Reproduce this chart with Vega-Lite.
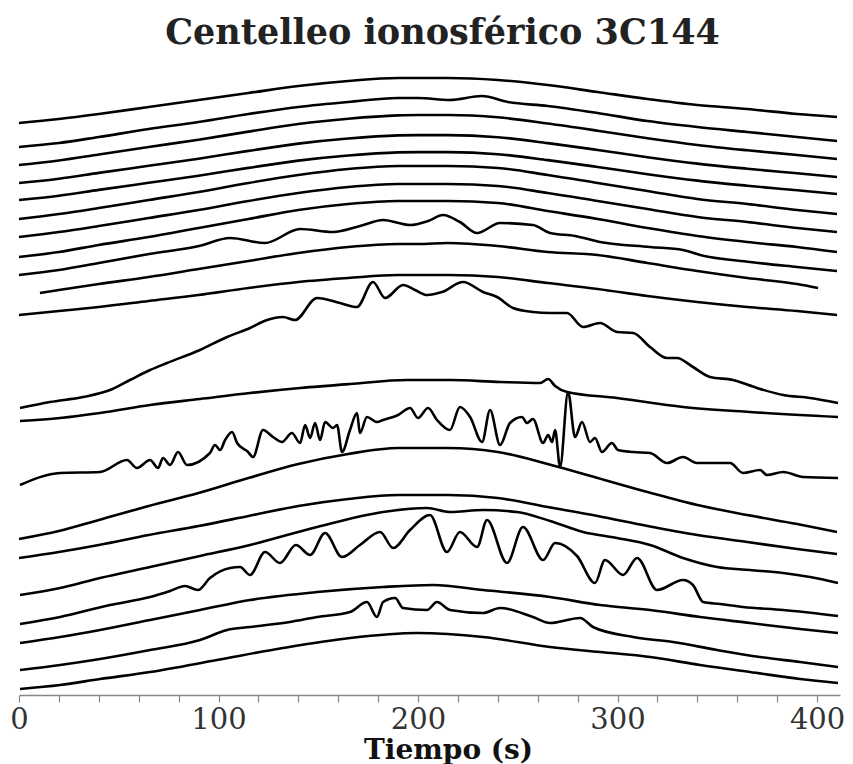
{
"$schema": "https://vega.github.io/schema/vega-lite/v6.json",
"width": 821, "height": 645,
"autosize": {"type": "none"},
"padding": {"left": 19, "top": 50, "right": 13, "bottom": 69},
"title": {"text": "Centelleo ionosférico 3C144", "font": "DejaVu Serif", "fontSize": 35, "fontWeight": "bold", "color": "#222", "anchor": "middle", "offset": -1, "dx": 13},
"config": {"view": {"stroke": null}},
"data": {"values": [
{"t":1,"x":0,"y":572},{"t":1,"x":20,"y":576},{"t":1,"x":40,"y":581},{"t":1,"x":65,"y":588},{"t":1,"x":90,"y":595},{"t":1,"x":115,"y":602},{"t":1,"x":140,"y":609},{"t":1,"x":165,"y":614},{"t":1,"x":190,"y":617},{"t":1,"x":200,"y":617},{"t":1,"x":215,"y":617},{"t":1,"x":240,"y":615},{"t":1,"x":265,"y":610},{"t":1,"x":290,"y":603},{"t":1,"x":315,"y":596},{"t":1,"x":340,"y":590},{"t":1,"x":365,"y":586},{"t":1,"x":390,"y":581},{"t":1,"x":410,"y":578},
{"t":2,"x":0,"y":548},{"t":2,"x":20,"y":552},{"t":2,"x":40,"y":558},{"t":2,"x":65,"y":566},{"t":2,"x":90,"y":573},{"t":2,"x":115,"y":581},{"t":2,"x":140,"y":588},{"t":2,"x":165,"y":593},{"t":2,"x":190,"y":597},{"t":2,"x":200,"y":597},{"t":2,"x":216,"y":595},{"t":2,"x":232,"y":599},{"t":2,"x":245,"y":593},{"t":2,"x":265,"y":589},{"t":2,"x":290,"y":582},{"t":2,"x":315,"y":574},{"t":2,"x":340,"y":568},{"t":2,"x":365,"y":563},{"t":2,"x":390,"y":558},{"t":2,"x":410,"y":554},
{"t":3,"x":0,"y":530},{"t":3,"x":20,"y":534.5},{"t":3,"x":40,"y":540.5},{"t":3,"x":65,"y":548},{"t":3,"x":90,"y":555.3},{"t":3,"x":115,"y":563.4},{"t":3,"x":140,"y":571},{"t":3,"x":165,"y":576.3},{"t":3,"x":190,"y":579.6},{"t":3,"x":200,"y":580},{"t":3,"x":215,"y":580},{"t":3,"x":240,"y":577.7},{"t":3,"x":265,"y":571.5},{"t":3,"x":290,"y":564.3},{"t":3,"x":315,"y":556.7},{"t":3,"x":340,"y":550},{"t":3,"x":365,"y":544.7},{"t":3,"x":390,"y":540},{"t":3,"x":410,"y":536},
{"t":4,"x":0,"y":512},{"t":4,"x":20,"y":516.3},{"t":4,"x":40,"y":522.1},{"t":4,"x":65,"y":529.2},{"t":4,"x":90,"y":536.3},{"t":4,"x":115,"y":544.1},{"t":4,"x":140,"y":551.4},{"t":4,"x":165,"y":556.5},{"t":4,"x":190,"y":559.6},{"t":4,"x":200,"y":559.9},{"t":4,"x":215,"y":559.9},{"t":4,"x":240,"y":557.8},{"t":4,"x":265,"y":551.9},{"t":4,"x":290,"y":545},{"t":4,"x":315,"y":537.8},{"t":4,"x":340,"y":531.4},{"t":4,"x":365,"y":526.3},{"t":4,"x":390,"y":521.7},{"t":4,"x":410,"y":518},
{"t":5,"x":0,"y":495},{"t":5,"x":20,"y":499.3},{"t":5,"x":40,"y":505.1},{"t":5,"x":65,"y":512.2},{"t":5,"x":90,"y":519.3},{"t":5,"x":115,"y":527.1},{"t":5,"x":140,"y":534.4},{"t":5,"x":165,"y":539.5},{"t":5,"x":190,"y":542.6},{"t":5,"x":200,"y":542.9},{"t":5,"x":215,"y":542.9},{"t":5,"x":240,"y":540.8},{"t":5,"x":265,"y":534.9},{"t":5,"x":290,"y":528},{"t":5,"x":315,"y":520.8},{"t":5,"x":340,"y":514.4},{"t":5,"x":365,"y":509.3},{"t":5,"x":390,"y":504.7},{"t":5,"x":410,"y":501},
{"t":6,"x":0,"y":476},{"t":6,"x":20,"y":481},{"t":6,"x":40,"y":487},{"t":6,"x":65,"y":495},{"t":6,"x":90,"y":503},{"t":6,"x":115,"y":512},{"t":6,"x":140,"y":520},{"t":6,"x":165,"y":526},{"t":6,"x":190,"y":529},{"t":6,"x":200,"y":529},{"t":6,"x":215,"y":529},{"t":6,"x":240,"y":527},{"t":6,"x":265,"y":520},{"t":6,"x":290,"y":512},{"t":6,"x":315,"y":504},{"t":6,"x":340,"y":496},{"t":6,"x":365,"y":491},{"t":6,"x":390,"y":485},{"t":6,"x":410,"y":481},
{"t":7,"x":0,"y":458},{"t":7,"x":20,"y":463},{"t":7,"x":40,"y":469},{"t":7,"x":65,"y":477},{"t":7,"x":90,"y":485},{"t":7,"x":115,"y":494},{"t":7,"x":140,"y":502},{"t":7,"x":165,"y":508},{"t":7,"x":190,"y":511},{"t":7,"x":200,"y":511},{"t":7,"x":215,"y":511},{"t":7,"x":240,"y":509},{"t":7,"x":265,"y":502},{"t":7,"x":290,"y":494},{"t":7,"x":315,"y":486},{"t":7,"x":340,"y":478},{"t":7,"x":365,"y":473},{"t":7,"x":390,"y":467},{"t":7,"x":410,"y":463},
{"t":8,"x":0,"y":438},{"t":8,"x":20,"y":443},{"t":8,"x":40,"y":450},{"t":8,"x":65,"y":458},{"t":8,"x":90,"y":467},{"t":8,"x":115,"y":476},{"t":8,"x":140,"y":485},{"t":8,"x":165,"y":491},{"t":8,"x":190,"y":494},{"t":8,"x":200,"y":494},{"t":8,"x":215,"y":494},{"t":8,"x":240,"y":492},{"t":8,"x":265,"y":484},{"t":8,"x":290,"y":476},{"t":8,"x":315,"y":467},{"t":8,"x":340,"y":459},{"t":8,"x":365,"y":453},{"t":8,"x":390,"y":448},{"t":8,"x":410,"y":443},
{"t":9,"x":0,"y":420},{"t":9,"x":20,"y":425},{"t":9,"x":40,"y":432},{"t":9,"x":65.2,"y":441},{"t":9,"x":90.2,"y":449},{"t":9,"x":105.8,"y":457},{"t":9,"x":123.3,"y":452},{"t":9,"x":140.9,"y":466},{"t":9,"x":157.4,"y":463},{"t":9,"x":170.9,"y":469},{"t":9,"x":182.5,"y":475},{"t":9,"x":196,"y":470},{"t":9,"x":205,"y":474},{"t":9,"x":212.5,"y":480},{"t":9,"x":221,"y":473},{"t":9,"x":229.6,"y":462},{"t":9,"x":241.1,"y":472},{"t":9,"x":257.6,"y":470},{"t":9,"x":266.2,"y":462},{"t":9,"x":278.7,"y":459},{"t":9,"x":291.2,"y":453},{"t":9,"x":316.3,"y":448},{"t":9,"x":332.8,"y":445},{"t":9,"x":341.4,"y":440},{"t":9,"x":366.4,"y":433},{"t":9,"x":390,"y":428},{"t":9,"x":410,"y":424},
{"t":10,"x":10.5,"y":402},{"t":10,"x":20,"y":405},{"t":10,"x":40,"y":411},{"t":10,"x":65,"y":418},{"t":10,"x":90,"y":426},{"t":10,"x":115,"y":434},{"t":10,"x":140,"y":442},{"t":10,"x":165,"y":448},{"t":10,"x":190,"y":451},{"t":10,"x":200,"y":451},{"t":10,"x":215,"y":452},{"t":10,"x":240,"y":449},{"t":10,"x":265,"y":443},{"t":10,"x":290,"y":440},{"t":10,"x":315,"y":432},{"t":10,"x":340,"y":424},{"t":10,"x":365,"y":417},{"t":10,"x":390,"y":411},{"t":10,"x":400.5,"y":407},
{"t":11,"x":0,"y":380},{"t":11,"x":20,"y":384},{"t":11,"x":40,"y":388},{"t":11,"x":65,"y":394},{"t":11,"x":90,"y":400},{"t":11,"x":115,"y":407},{"t":11,"x":140,"y":413},{"t":11,"x":165,"y":417},{"t":11,"x":190,"y":420},{"t":11,"x":200,"y":420},{"t":11,"x":215,"y":420},{"t":11,"x":240,"y":418},{"t":11,"x":265,"y":412},{"t":11,"x":290,"y":406},{"t":11,"x":315,"y":399},{"t":11,"x":340,"y":393},{"t":11,"x":365,"y":388},{"t":11,"x":390,"y":384},{"t":11,"x":410,"y":380},
{"t":12,"x":0.5,"y":287},{"t":12,"x":15.5,"y":293},{"t":12,"x":32.1,"y":298},{"t":12,"x":45.6,"y":305},{"t":12,"x":55.6,"y":315},{"t":12,"x":65.7,"y":325},{"t":12,"x":74.2,"y":332},{"t":12,"x":90.7,"y":345},{"t":12,"x":104.3,"y":358},{"t":12,"x":115.8,"y":367},{"t":12,"x":124.3,"y":375},{"t":12,"x":132.3,"y":378},{"t":12,"x":138.3,"y":375},{"t":12,"x":149.4,"y":397},{"t":12,"x":160.9,"y":392},{"t":12,"x":169.4,"y":388},{"t":12,"x":177.4,"y":413},{"t":12,"x":183.5,"y":397},{"t":12,"x":192.5,"y":410},{"t":12,"x":198.5,"y":405},{"t":12,"x":204.5,"y":400},{"t":12,"x":212,"y":403},{"t":12,"x":222.6,"y":413},{"t":12,"x":232.6,"y":403},{"t":12,"x":239.6,"y":398},{"t":12,"x":247.6,"y":387},{"t":12,"x":257.6,"y":383},{"t":12,"x":266.2,"y":382},{"t":12,"x":274.7,"y":382},{"t":12,"x":282.7,"y":368},{"t":12,"x":291.2,"y":372},{"t":12,"x":299.7,"y":363},{"t":12,"x":307.8,"y":362},{"t":12,"x":316.3,"y":348},{"t":12,"x":324.8,"y":337},{"t":12,"x":329.8,"y":337},{"t":12,"x":337.8,"y":328},{"t":12,"x":346.4,"y":318},{"t":12,"x":357.9,"y":315},{"t":12,"x":369.9,"y":307},{"t":12,"x":383,"y":300},{"t":12,"x":396.5,"y":297},{"t":12,"x":410.5,"y":292},
{"t":13,"x":0.5,"y":274},{"t":13,"x":20.6,"y":277},{"t":13,"x":40.6,"y":282},{"t":13,"x":65.7,"y":290},{"t":13,"x":90.7,"y":296},{"t":13,"x":115.8,"y":302},{"t":13,"x":140.9,"y":307},{"t":13,"x":165.9,"y":311},{"t":13,"x":194.5,"y":315},{"t":13,"x":216,"y":315},{"t":13,"x":241.1,"y":313},{"t":13,"x":261.2,"y":312},{"t":13,"x":265.2,"y":316},{"t":13,"x":268.7,"y":309},{"t":13,"x":274.7,"y":303},{"t":13,"x":299.7,"y":297},{"t":13,"x":332.8,"y":288},{"t":13,"x":366.4,"y":283},{"t":13,"x":410.5,"y":278},
{"t":14,"x":0.5,"y":210},{"t":14,"x":20.6,"y":222},{"t":14,"x":40.6,"y":223},{"t":14,"x":54.1,"y":235},{"t":14,"x":59.1,"y":227},{"t":14,"x":65.7,"y":235},{"t":14,"x":69.7,"y":227},{"t":14,"x":72.2,"y":237},{"t":14,"x":75.7,"y":230},{"t":14,"x":79.7,"y":243},{"t":14,"x":84.2,"y":230},{"t":14,"x":95.7,"y":242},{"t":14,"x":98.2,"y":250},{"t":14,"x":100.8,"y":245},{"t":14,"x":103.3,"y":255},{"t":14,"x":106.8,"y":263},{"t":14,"x":109.3,"y":252},{"t":14,"x":114.8,"y":243},{"t":14,"x":117.3,"y":238},{"t":14,"x":122.3,"y":265},{"t":14,"x":127.3,"y":258},{"t":14,"x":131.8,"y":253},{"t":14,"x":136.8,"y":262},{"t":14,"x":140.9,"y":252},{"t":14,"x":143.4,"y":270},{"t":14,"x":145.9,"y":257},{"t":14,"x":148.4,"y":272},{"t":14,"x":150.9,"y":255},{"t":14,"x":153.4,"y":273},{"t":14,"x":157.4,"y":267},{"t":14,"x":159.4,"y":270},{"t":14,"x":161.9,"y":243},{"t":14,"x":165.9,"y":265},{"t":14,"x":169.4,"y":282},{"t":14,"x":170.9,"y":262},{"t":14,"x":174.4,"y":278},{"t":14,"x":179.4,"y":273},{"t":14,"x":182.5,"y":275},{"t":14,"x":187.5,"y":278},{"t":14,"x":190,"y":280},{"t":14,"x":196,"y":287},{"t":14,"x":200,"y":277},{"t":14,"x":205,"y":287},{"t":14,"x":209.5,"y":275},{"t":14,"x":216,"y":265},{"t":14,"x":221,"y":288},{"t":14,"x":226.1,"y":278},{"t":14,"x":232.1,"y":253},{"t":14,"x":236.1,"y":285},{"t":14,"x":241.1,"y":250},{"t":14,"x":246.1,"y":272},{"t":14,"x":252.1,"y":278},{"t":14,"x":254.6,"y":272},{"t":14,"x":257.6,"y":276},{"t":14,"x":262.7,"y":252},{"t":14,"x":265.2,"y":260},{"t":14,"x":267.2,"y":253},{"t":14,"x":268.7,"y":265},{"t":14,"x":271.2,"y":228},{"t":14,"x":275.2,"y":303},{"t":14,"x":278.7,"y":258},{"t":14,"x":282.2,"y":273},{"t":14,"x":286.2,"y":253},{"t":14,"x":288.7,"y":257},{"t":14,"x":292.2,"y":243},{"t":14,"x":297.2,"y":252},{"t":14,"x":300.2,"y":245},{"t":14,"x":307.8,"y":243},{"t":14,"x":316.3,"y":242},{"t":14,"x":324.8,"y":232},{"t":14,"x":332.8,"y":238},{"t":14,"x":339.8,"y":232},{"t":14,"x":346.4,"y":232},{"t":14,"x":356.4,"y":232},{"t":14,"x":362.9,"y":222},{"t":14,"x":371.4,"y":225},{"t":14,"x":374.9,"y":220},{"t":14,"x":383,"y":223},{"t":14,"x":393,"y":218},{"t":14,"x":410.5,"y":217},
{"t":15,"x":0,"y":156},{"t":15,"x":20,"y":164},{"t":15,"x":40,"y":175},{"t":15,"x":65,"y":189},{"t":15,"x":90,"y":202},{"t":15,"x":115,"y":217},{"t":15,"x":140,"y":231},{"t":15,"x":165,"y":241},{"t":15,"x":190,"y":247},{"t":15,"x":200,"y":247},{"t":15,"x":215,"y":247},{"t":15,"x":240,"y":243},{"t":15,"x":265,"y":231},{"t":15,"x":290,"y":217},{"t":15,"x":315,"y":203},{"t":15,"x":340,"y":190},{"t":15,"x":365,"y":180},{"t":15,"x":390,"y":171},{"t":15,"x":410,"y":163},
{"t":16,"x":0,"y":137},{"t":16,"x":20,"y":143},{"t":16,"x":40,"y":150},{"t":16,"x":65,"y":160},{"t":16,"x":90,"y":169},{"t":16,"x":115,"y":179},{"t":16,"x":140,"y":189},{"t":16,"x":165,"y":196},{"t":16,"x":190,"y":200},{"t":16,"x":200,"y":200},{"t":16,"x":215,"y":200},{"t":16,"x":240,"y":197},{"t":16,"x":265,"y":188},{"t":16,"x":290,"y":179},{"t":16,"x":315,"y":169},{"t":16,"x":340,"y":160},{"t":16,"x":365,"y":153},{"t":16,"x":390,"y":146},{"t":16,"x":410,"y":141},
{"t":17,"x":0.5,"y":100},{"t":17,"x":20.6,"y":107},{"t":17,"x":40.6,"y":117},{"t":17,"x":65.7,"y":128},{"t":17,"x":90.7,"y":139},{"t":17,"x":115.8,"y":150},{"t":17,"x":149.4,"y":168},{"t":17,"x":182.5,"y":183},{"t":17,"x":204.5,"y":187},{"t":17,"x":216,"y":183},{"t":17,"x":232.6,"y":185},{"t":17,"x":249.6,"y":183},{"t":17,"x":266.2,"y":174},{"t":17,"x":282.7,"y":163},{"t":17,"x":299.7,"y":157},{"t":17,"x":316.3,"y":150},{"t":17,"x":332.8,"y":137},{"t":17,"x":349.9,"y":128},{"t":17,"x":366.4,"y":125},{"t":17,"x":383,"y":122},{"t":17,"x":396.5,"y":118},{"t":17,"x":410.5,"y":112},
{"t":18,"x":0.5,"y":71},{"t":18,"x":20.6,"y":78},{"t":18,"x":45.6,"y":90},{"t":18,"x":65.7,"y":98},{"t":18,"x":75.7,"y":104},{"t":18,"x":83.2,"y":109},{"t":18,"x":89.7,"y":105},{"t":18,"x":95.7,"y":117},{"t":18,"x":105.8,"y":127},{"t":18,"x":110.8,"y":128},{"t":18,"x":115.8,"y":120},{"t":18,"x":123.3,"y":143},{"t":18,"x":130.8,"y":132},{"t":18,"x":138.8,"y":150},{"t":18,"x":145.9,"y":140},{"t":18,"x":153.4,"y":162},{"t":18,"x":161.9,"y":138},{"t":18,"x":170.9,"y":150},{"t":18,"x":181,"y":163},{"t":18,"x":187.5,"y":147},{"t":18,"x":196,"y":165},{"t":18,"x":206,"y":180},{"t":18,"x":214.5,"y":143},{"t":18,"x":221,"y":163},{"t":18,"x":229.6,"y":148},{"t":18,"x":234.6,"y":175},{"t":18,"x":244.6,"y":132},{"t":18,"x":252.6,"y":168},{"t":18,"x":262.7,"y":135},{"t":18,"x":268.7,"y":152},{"t":18,"x":279.7,"y":139},{"t":18,"x":288.7,"y":112},{"t":18,"x":293.7,"y":135},{"t":18,"x":302.8,"y":120},{"t":18,"x":309.8,"y":137},{"t":18,"x":319.8,"y":105},{"t":18,"x":332.8,"y":115},{"t":18,"x":337.8,"y":110},{"t":18,"x":342.9,"y":93},{"t":18,"x":351.4,"y":91},{"t":18,"x":362.9,"y":88},{"t":18,"x":383,"y":85},{"t":18,"x":410.5,"y":79},
{"t":19,"x":0.5,"y":52},{"t":19,"x":20.6,"y":58},{"t":19,"x":40.6,"y":65},{"t":19,"x":65.7,"y":75},{"t":19,"x":90.7,"y":85},{"t":19,"x":115.8,"y":95},{"t":19,"x":149.4,"y":103},{"t":19,"x":182.5,"y":108},{"t":19,"x":207.5,"y":110},{"t":19,"x":232.6,"y":105},{"t":19,"x":266.2,"y":98},{"t":19,"x":291.2,"y":90},{"t":19,"x":316.3,"y":85},{"t":19,"x":341.4,"y":78},{"t":19,"x":366.4,"y":72},{"t":19,"x":391.5,"y":66},{"t":19,"x":410.5,"y":62},
{"t":20,"x":0.5,"y":25},{"t":20,"x":20.6,"y":30},{"t":20,"x":40.6,"y":36},{"t":20,"x":65.7,"y":45},{"t":20,"x":90.7,"y":55},{"t":20,"x":104.3,"y":65},{"t":20,"x":115.8,"y":68},{"t":20,"x":135.8,"y":73},{"t":20,"x":149.4,"y":78},{"t":20,"x":165.9,"y":83},{"t":20,"x":174.4,"y":93},{"t":20,"x":179.4,"y":78},{"t":20,"x":182.5,"y":93},{"t":20,"x":188.5,"y":97},{"t":20,"x":192.5,"y":87},{"t":20,"x":204.5,"y":85},{"t":20,"x":209.5,"y":93},{"t":20,"x":216,"y":85},{"t":20,"x":232.6,"y":82},{"t":20,"x":241.1,"y":87},{"t":20,"x":257.6,"y":78},{"t":20,"x":266.2,"y":72},{"t":20,"x":281.2,"y":77},{"t":20,"x":287.7,"y":68},{"t":20,"x":307.8,"y":58},{"t":20,"x":327.8,"y":53},{"t":20,"x":349.9,"y":45},{"t":20,"x":371.4,"y":38},{"t":20,"x":391.5,"y":33},{"t":20,"x":410.5,"y":28},
{"t":21,"x":0.5,"y":6},{"t":21,"x":20.6,"y":10},{"t":21,"x":40.6,"y":16},{"t":21,"x":65.7,"y":23},{"t":21,"x":99.2,"y":35},{"t":21,"x":132.3,"y":47},{"t":21,"x":165.9,"y":57},{"t":21,"x":199.5,"y":62},{"t":21,"x":232.6,"y":58},{"t":21,"x":266.2,"y":48},{"t":21,"x":291.2,"y":43},{"t":21,"x":316.3,"y":38},{"t":21,"x":341.4,"y":30},{"t":21,"x":366.4,"y":23},{"t":21,"x":391.5,"y":16},{"t":21,"x":410.5,"y":12}
]},
"mark": {"type": "line", "color": "#000", "strokeWidth": 2.6, "interpolate": "monotone"},
"encoding": {
  "x": {"field": "x", "type": "quantitative", "scale": {"domain": [0, 411.5], "nice": false, "zero": false},
        "axis": {"values": [0,20,40,60,80,100,120,140,160,180,200,220,240,260,280,300,320,340,360,380,400], "labelExpr": "datum.value % 100 === 0 ? datum.label : ''", "grid": false, "domainColor": "#888", "domainWidth": 1.5, "tickColor": "#888", "tickSize": 7, "tickWidth": 1.2, "labelFont": "DejaVu Serif", "labelFontSize": 29, "labelColor": "#333", "labelPadding": 3, "labelFlush": false, "labelOverlap": false, "title": "Tiempo (s)", "titleFont": "DejaVu Serif", "titleFontSize": 28, "titleFontWeight": "bold", "titleColor": "#111", "titlePadding": 2, "titleX": 429}},
  "y": {"field": "y", "type": "quantitative", "scale": {"domain": [0, 645], "nice": false, "zero": false}, "axis": null},
  "detail": {"field": "t", "type": "nominal"}
}
}
